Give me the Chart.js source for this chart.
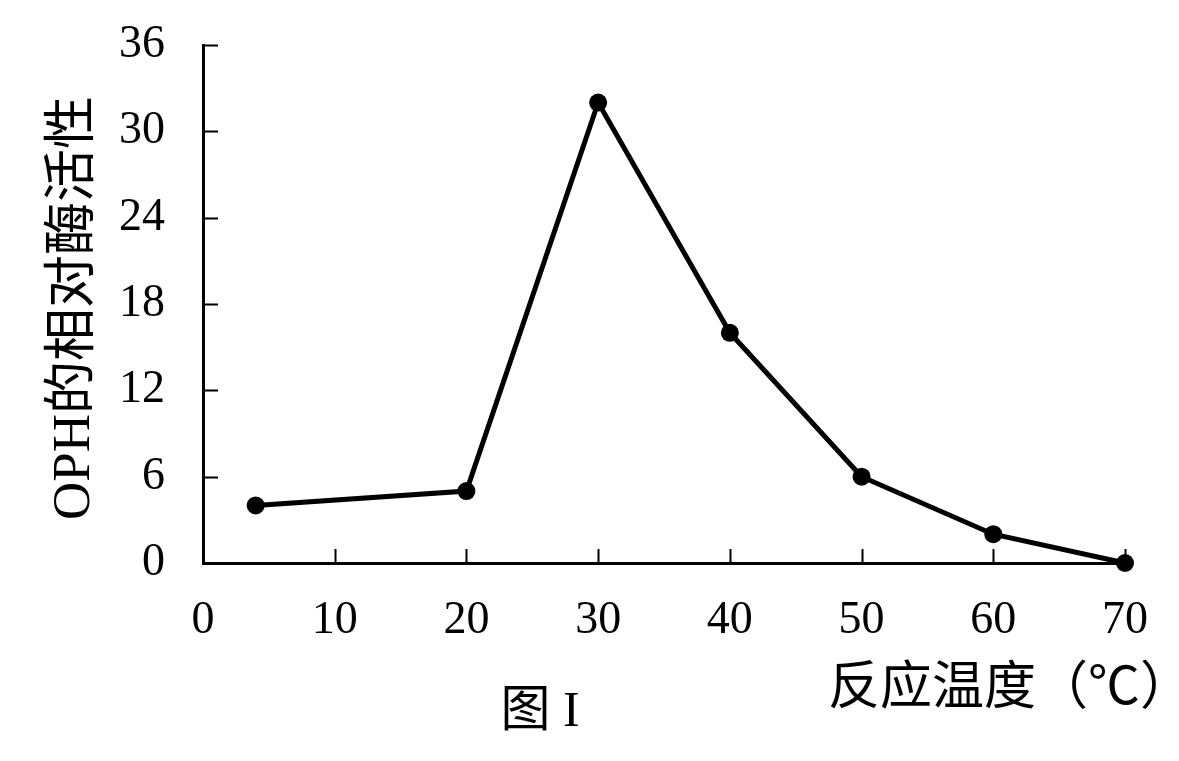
<!DOCTYPE html>
<html lang="zh">
<head>
  <meta charset="UTF-8" />
  <title>OPH的相对酶活性</title>
  <style>
    html, body { margin: 0; padding: 0; background: #fff; }
    .wrap { width: 1179px; height: 761px; }
  </style>
</head>
<body>
  <div class="wrap">
    <canvas id="myChart" width="1179" height="761"></canvas>
  </div>
  <script src="https://cdn.jsdelivr.net/npm/chart.js"></script>
  <script>
    // data
    const temps = [4, 20, 30, 40, 50, 60, 70];
    const activity = [4, 5, 32, 16, 6, 2, 0];
    const xTicks = [0, 10, 20, 30, 40, 50, 60, 70];
    const yTicks = [0, 6, 12, 18, 24, 30, 36];

    const yTitle = 'OPH的相对酶活性';
    const xTitle = '反应温度（℃）';
    const caption = '图 I';

    const serif = '"Liberation Serif", "Noto Sans CJK SC", serif';

    // inward tick marks + the texts around the plot
    const decor = {
      id: 'decor',
      afterDraw(chart) {
        const ctx = chart.ctx;
        const xs = chart.scales.x, ys = chart.scales.y;
        const area = chart.chartArea;
        ctx.save();
        ctx.strokeStyle = '#000';
        ctx.lineWidth = 2;
        ctx.beginPath();
        xTicks.slice(1).forEach(v => {
          const px = Math.round(xs.getPixelForValue(v)) + 0.5;
          ctx.moveTo(px, area.bottom);
          ctx.lineTo(px, area.bottom - 14);
        });
        yTicks.slice(1).forEach(v => {
          const py = Math.round(ys.getPixelForValue(v)) + 0.5;
          ctx.moveTo(area.left, py);
          ctx.lineTo(area.left + 15, py);
        });
        ctx.stroke();

        ctx.fillStyle = '#000';
        // y title
        ctx.save();
        ctx.translate(75, (area.top + area.bottom) / 2 + 4);
        ctx.rotate(-Math.PI / 2);
        ctx.font = '53px ' + serif;
        ctx.textAlign = 'center';
        ctx.textBaseline = 'middle';
        ctx.fillText(yTitle, 0, 0);
        ctx.restore();

        // x title
        ctx.font = '52px ' + serif;
        ctx.textAlign = 'right';
        ctx.textBaseline = 'middle';
        ctx.fillText(xTitle, 1192, 690);

        // caption
        ctx.font = '50px ' + serif;
        ctx.textAlign = 'center';
        ctx.fillText(caption, 540, 713);
        ctx.restore();
      }
    };

    const ctx = document.getElementById('myChart').getContext('2d');
    new Chart(ctx, {
      type: 'line',
      data: {
        datasets: [{
          data: temps.map((t, i) => ({ x: t, y: activity[i] })),
          borderColor: '#000',
          backgroundColor: '#000',
          borderWidth: 5,
          pointRadius: 9,
          pointHoverRadius: 9,
          pointBackgroundColor: '#000',
          pointBorderWidth: 0,
          tension: 0,
          clip: false
        }]
      },
      options: {
        responsive: false,
        animation: false,
        layout: { padding: { top: 45, right: 54, left: 0, bottom: 0 } },
        plugins: { legend: { display: false }, tooltip: { enabled: false } },
        scales: {
          x: {
            type: 'linear',
            min: 0,
            max: 70,
            afterBuildTicks: s => { s.ticks = xTicks.map(v => ({ value: v })); },
            afterFit: s => { s.height = 198; s.paddingLeft = 0; s.paddingRight = 0; },
            grid: { display: false, drawTicks: false },
            border: { display: true, color: '#000', width: 3 },
            ticks: { color: '#000', padding: 30, font: { family: serif, size: 46 } }
          },
          y: {
            min: 0,
            max: 36,
            afterBuildTicks: s => { s.ticks = yTicks.map(v => ({ value: v })); },
            afterFit: s => { s.width = 203; s.paddingTop = 0; s.paddingBottom = 0; },
            grid: { display: false, drawTicks: false },
            border: { display: true, color: '#000', width: 3 },
            ticks: { color: '#000', padding: 38, font: { family: serif, size: 46 } }
          }
        }
      },
      plugins: [decor]
    });
  </script>
</body>
</html>
